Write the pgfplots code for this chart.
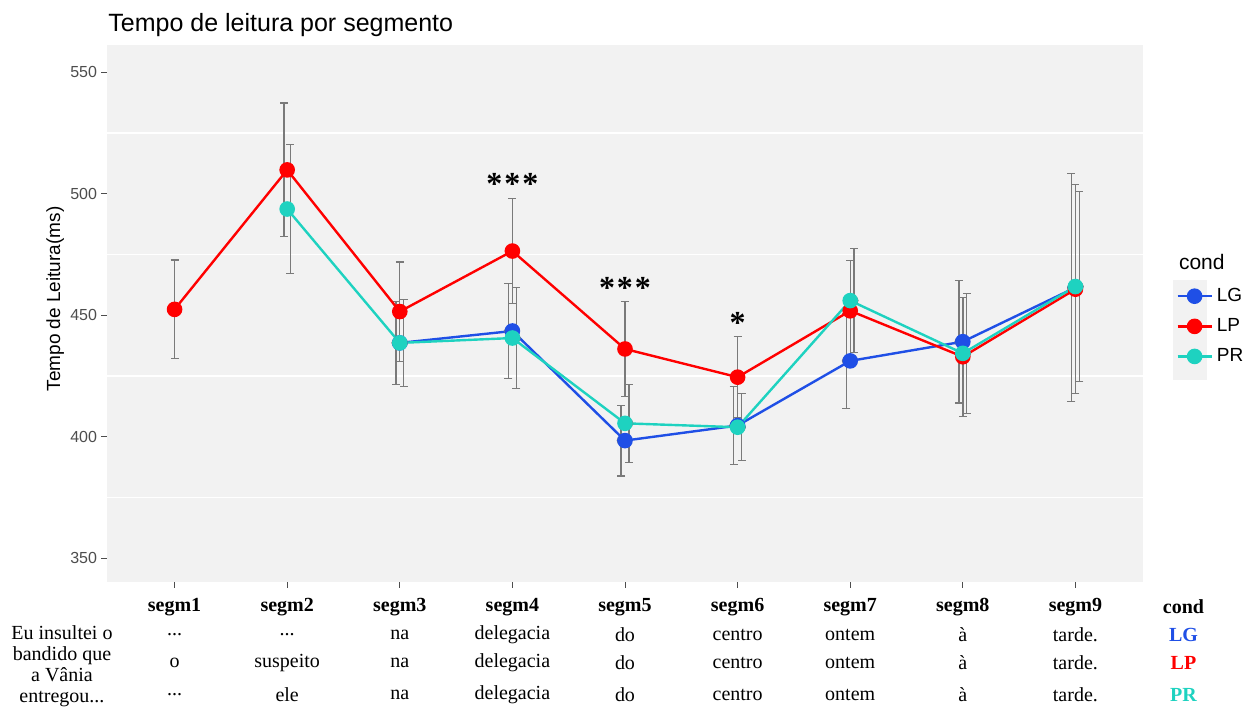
\documentclass[border=0pt]{standalone}
\usepackage{pgfplots}
\pgfplotsset{compat=1.18}
\usepackage{pgfplotstable}
\usepackage{fontspec}
\setmainfont{Liberation Sans}
\newfontfamily\serif{Liberation Serif}
\definecolor{cLG}{HTML}{1F4FE6}
\definecolor{cLP}{HTML}{FF0000}
\definecolor{cPR}{HTML}{1ED2C0}
\definecolor{panel}{HTML}{F2F2F2}
\definecolor{ebar}{HTML}{7A7A7A}
\definecolor{tickgray}{HTML}{4D4D4D}

% x = segment, xd = dodged x of the error bar, y = mean, e = half-width of error bar
\pgfplotstableread{
x xd y e
3 2.965 438.7 17.0
4 3.965 443.6 19.6
5 4.965 398.5 14.6
6 5.965 404.7 16.2
7 6.965 431.3 19.5
8 7.965 439.2 25.2
9 8.965 461.5 47.0
}\lg
\pgfplotstableread{
x xd y e
1 1.000 452.5 20.3
2 1.973 509.9 27.5
3 3.000 451.6 20.4
4 4.000 476.5 21.7
5 5.000 436.2 19.6
6 6.000 424.6 16.7
7 7.000 451.9 20.6
8 8.000 433.0 24.5
9 9.000 460.8 43.0
}\lp
\pgfplotstableread{
x xd y e
2 2.027 493.8 26.5
3 3.035 438.7 18.0
4 4.035 440.7 20.7
5 5.035 405.6 16.0
6 6.035 404.0 13.8
7 7.035 456.1 21.3
8 8.035 434.4 24.7
9 9.035 461.9 39.0
}\pr

\pgfplotsset{ebars/.style={ebar, only marks, mark=none, forget plot,
  error bars/.cd, y dir=both, y explicit,
  error bar style={ebar, line width=0.7pt},
  error mark=-,
  error mark options={ebar, rotate=90, mark size=2pt, line width=0.6pt}}}

\begin{document}
\begin{tikzpicture}
\begin{axis}[
  scale only axis, width=518pt, height=268.5pt,
  xmin=0.4, xmax=9.6, ymin=340.3, ymax=561.3,
  axis background/.style={fill=panel},
  axis line style={draw=none},
  xtick={1,...,9}, xticklabels={,,,,,,,,},
  ytick={350,400,450,500,550},
  minor ytick={375,425,475,525},
  yminorgrids=true, ymajorgrids=false,
  minor grid style={white, line width=0.8pt},
  tick align=outside, tick pos=left,
  major tick length=3pt, minor tick length=0pt,
  tick style={tickgray, line width=0.5pt},
  yticklabel style={font=\fontsize{8}{9}\selectfont, color=tickgray, xshift=1.5pt},
  /pgf/number format/assume math mode=true,
  clip=false,
  legend style={at={(rel axis cs:1.026,0.563)}, anchor=north west, draw=none, fill=none,
    font=\fontsize{9.5}{11}\selectfont, row sep=3pt},
  legend cell align=left,
]
% legend key background
\fill[panel] (rel axis cs:1.029,0.376) rectangle (rel axis cs:1.062,0.5624);

% error bars
\addplot[ebars] table[x=xd, y=y, y error=e] {\lg};
\addplot[ebars] table[x=xd, y=y, y error=e] {\lp};
\addplot[ebars] table[x=xd, y=y, y error=e] {\pr};

% lines and points
\addplot[cLG, line width=1.2pt, mark=*, mark size=3.3pt, mark options={solid, fill=cLG, draw=cLG}]
  table[x=x, y=y] {\lg};
\addlegendentry{LG}
\addplot[cLP, line width=1.2pt, mark=*, mark size=3.3pt, mark options={solid, fill=cLP, draw=cLP}]
  table[x=x, y=y] {\lp};
\addlegendentry{LP}
\addplot[cPR, line width=1.2pt, mark=*, mark size=3.3pt, mark options={solid, fill=cPR, draw=cPR}]
  table[x=x, y=y] {\pr};
\addlegendentry{PR}

% significance
\node[font=\serif\bfseries\fontsize{16}{16}\selectfont] at (axis cs:4,504) {*\kern1pt*\kern1pt*};
\node[font=\serif\bfseries\fontsize{16}{16}\selectfont] at (axis cs:5,461.5) {*\kern1pt*\kern1pt*};
\node[font=\serif\bfseries\fontsize{16}{16}\selectfont] at (axis cs:6,447) {*};

% titles
\node[anchor=base west, inner sep=0pt, font=\fontsize{12.5}{15}\selectfont] at (rel axis cs:0.001,1.026) {Tempo de leitura por segmento};
\node[rotate=90, font=\fontsize{9.5}{11}\selectfont] at (rel axis cs:-0.05,0.527) {Tempo de Leitura(ms)};
\node[anchor=west, font=\fontsize{10.5}{12}\selectfont] at (rel axis cs:1.028,0.596) {cond};

% table below the chart
\pgfplotsinvokeforeach{1,...,9}{
  \node[font=\serif\bfseries\fontsize{10}{12}\selectfont] at (axis cs:#1,330.1) {segm#1};
}
\node[font=\serif\bfseries\fontsize{10}{12}\selectfont] at (axis cs:9.96,330.1) {cond};
\node[font=\serif\fontsize{10}{10.5}\selectfont, align=center] at (axis cs:0.0,305.5) {Eu insultei o\\bandido que\\a Vânia\\entregou...};

\node[font=\serif\fontsize{10}{12}\selectfont] at (axis cs:1,318.5) {...};
\node[font=\serif\fontsize{10}{12}\selectfont] at (axis cs:2,318.5) {...};
\node[font=\serif\fontsize{10}{12}\selectfont] at (axis cs:3,318.5) {na};
\node[font=\serif\fontsize{10}{12}\selectfont] at (axis cs:4,318.5) {delegacia};
\node[font=\serif\fontsize{10}{12}\selectfont] at (axis cs:5,318.5) {do};
\node[font=\serif\fontsize{10}{12}\selectfont] at (axis cs:6,318.5) {centro};
\node[font=\serif\fontsize{10}{12}\selectfont] at (axis cs:7,318.5) {ontem};
\node[font=\serif\fontsize{10}{12}\selectfont] at (axis cs:8,318.5) {à};
\node[font=\serif\fontsize{10}{12}\selectfont] at (axis cs:9,318.5) {tarde.};
\node[font=\serif\bfseries\fontsize{10}{12}\selectfont, text=cLG] at (axis cs:9.96,318.5) {LG};

\node[font=\serif\fontsize{10}{12}\selectfont] at (axis cs:1,307.0) {o};
\node[font=\serif\fontsize{10}{12}\selectfont] at (axis cs:2,307.0) {suspeito};
\node[font=\serif\fontsize{10}{12}\selectfont] at (axis cs:3,307.0) {na};
\node[font=\serif\fontsize{10}{12}\selectfont] at (axis cs:4,307.0) {delegacia};
\node[font=\serif\fontsize{10}{12}\selectfont] at (axis cs:5,307.0) {do};
\node[font=\serif\fontsize{10}{12}\selectfont] at (axis cs:6,307.0) {centro};
\node[font=\serif\fontsize{10}{12}\selectfont] at (axis cs:7,307.0) {ontem};
\node[font=\serif\fontsize{10}{12}\selectfont] at (axis cs:8,307.0) {à};
\node[font=\serif\fontsize{10}{12}\selectfont] at (axis cs:9,307.0) {tarde.};
\node[font=\serif\bfseries\fontsize{10}{12}\selectfont, text=cLP] at (axis cs:9.96,307.0) {LP};

\node[font=\serif\fontsize{10}{12}\selectfont] at (axis cs:1,293.9) {...};
\node[font=\serif\fontsize{10}{12}\selectfont] at (axis cs:2,293.9) {ele};
\node[font=\serif\fontsize{10}{12}\selectfont] at (axis cs:3,293.9) {na};
\node[font=\serif\fontsize{10}{12}\selectfont] at (axis cs:4,293.9) {delegacia};
\node[font=\serif\fontsize{10}{12}\selectfont] at (axis cs:5,293.9) {do};
\node[font=\serif\fontsize{10}{12}\selectfont] at (axis cs:6,293.9) {centro};
\node[font=\serif\fontsize{10}{12}\selectfont] at (axis cs:7,293.9) {ontem};
\node[font=\serif\fontsize{10}{12}\selectfont] at (axis cs:8,293.9) {à};
\node[font=\serif\fontsize{10}{12}\selectfont] at (axis cs:9,293.9) {tarde.};
\node[font=\serif\bfseries\fontsize{10}{12}\selectfont, text=cPR] at (axis cs:9.96,293.9) {PR};

\coordinate (bl) at (rel axis cs:-0.1033,-0.2365);
\coordinate (tr) at (rel axis cs:1.0985,1.0838);
\end{axis}
\pgfresetboundingbox
\path (bl) rectangle (tr);
\end{tikzpicture}
\end{document}
